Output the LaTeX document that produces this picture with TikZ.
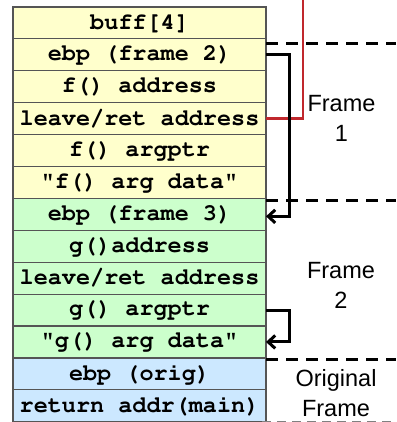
\documentclass[tikz,border=0pt]{standalone}
\usepackage[T1]{fontenc}
\usepackage{fontspec}
\setmainfont{Liberation Sans}
\newcommand\courierbold{\fontencoding{T1}\fontfamily{pcr}\fontseries{b}\selectfont}
\usetikzlibrary{arrows.meta}
\definecolor{fyellow}{HTML}{FFFFCC}
\definecolor{fgreen}{HTML}{CCFFCC}
\definecolor{fblue}{HTML}{CCE8FF}
\definecolor{redline}{HTML}{C0282D}
\definecolor{cellborder}{HTML}{555555}
\tikzset{
  cell/.style={draw=cellborder, line width=1.2pt, minimum width=253pt, minimum height=31.9pt,
    inner sep=0pt, outer sep=0pt, font=\fontsize{23.5}{26}\courierbold},
  framelbl/.style={align=center, inner sep=0pt, font=\fontsize{23.5}{30}\selectfont},
  sep/.style={line width=3pt, dash pattern=on 12pt off 8pt},
  link/.style={line width=3pt},
  arr/.style={link, -{Straight Barb[length=7pt,width=13pt,line width=3pt]}}
}
\begin{document}
\begin{tikzpicture}[x=1pt,y=-1pt]
\useasboundingbox (0,0) rectangle (396,422);
\foreach \i/\t/\c in {1/buff[4]/fyellow, 2/ebp (frame 2)/fyellow, 3/f() address/fyellow,
  4/leave\slash ret address/fyellow, 5/f() argptr/fyellow, 6/"f() arg data"/fyellow,
  7/ebp (frame 3)/fgreen, 8/g()address/fgreen, 9/leave\slash ret address/fgreen,
  10/g() argptr/fgreen, 11/"g() arg data"/fgreen, 12/ebp (orig)/fblue, 13/return addr(main)/fblue}
  \node[cell, fill=\c] (r\i) at (139.5, {7+31.9*(\i-0.5)}) {\t};

% frame separators
\draw[sep] ([yshift=-4.8pt]r1.south east) -- ++(130,0);
\draw[sep] ([yshift=-2pt]r6.south east) -- ++(130,0);
\draw[sep] ([yshift=-2pt]r11.south east) -- ++(130,0);
\draw[line width=1.8pt, gray, dash pattern=on 9pt off 6pt] ([xshift=-4pt,yshift=-0.5pt]r13.south east) -- ++(134,0);

% connectors
\coordinate (redtop) at (303,0);
\draw[redline, line width=2.4pt] (r4.east) -| (redtop);
\draw[arr] (r2.east) -- ([xshift=23pt]r2.east) |- ([yshift=-2pt]r7.east);
\draw[arr] (r10.east) -- ([xshift=23pt]r10.east) |- (r11.east);

% labels
\node[framelbl] (f1) at (341.5,118) {Frame\\1};
\node[framelbl] (f2) at (341,285) {Frame\\2};
\node[framelbl] (f0) at (336,393) {Original\\Frame};
\end{tikzpicture}
\end{document}
